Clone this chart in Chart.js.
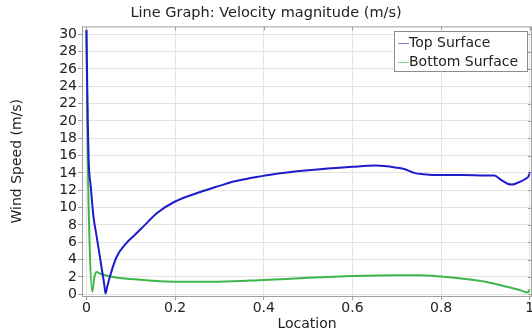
<!DOCTYPE html>
<html>
<head>
<meta charset="utf-8">
<script src="https://cdn.jsdelivr.net/npm/chart.js@4.4.0/dist/chart.umd.min.js"></script>
<style>
  html, body { margin: 0; padding: 0; background: #fff; }
  #wrap { width: 532px; height: 333px; }
</style>
</head>
<body>
<div id="wrap"><canvas id="chart" width="532" height="333"></canvas></div>
<script>
// Top surface
const topX = [0, 0.003, 0.005, 0.010, 0.016, 0.022, 0.028, 0.035, 0.040, 0.043, 0.047, 0.055, 0.068, 0.09, 0.11, 0.128, 0.16, 0.2, 0.257, 0.3, 0.332, 0.37, 0.415, 0.5, 0.6, 0.653, 0.7, 0.72, 0.739, 0.76, 0.8, 0.85, 0.9, 0.92, 0.935, 0.95, 0.959, 0.97, 0.99, 0.997, 1.0];
const topY = [30.5, 20, 15.5, 12.3, 8.9, 7.0, 5.1, 2.8, 1.2, 0.1, 0.9, 2.4, 4.3, 5.9, 6.9, 7.8, 9.4, 10.7, 11.8, 12.5, 13.0, 13.4, 13.8, 14.3, 14.7, 14.85, 14.6, 14.4, 14.0, 13.85, 13.75, 13.75, 13.7, 13.7, 13.2, 12.75, 12.65, 12.8, 13.3, 13.6, 14.1];

// Bottom surface
const botX = [0, 0.003, 0.007, 0.013, 0.018, 0.023, 0.03, 0.05, 0.07, 0.1, 0.15, 0.2, 0.3, 0.4, 0.5, 0.6, 0.7, 0.75, 0.8, 0.85, 0.9, 0.95, 0.98, 0.995, 1.0];
const botY = [30.5, 16, 6, 0.3, 2.0, 2.58, 2.4, 2.1, 1.9, 1.75, 1.55, 1.45, 1.45, 1.65, 1.9, 2.1, 2.2, 2.2, 2.05, 1.8, 1.45, 0.85, 0.45, 0.2, 0.55];

const xTicks = [0, 0.2, 0.4, 0.6, 0.8, 1];
const yTicks = [0, 2, 4, 6, 8, 10, 12, 14, 16, 18, 20, 22, 24, 26, 28, 30];

const seriesLabels = ['Top Surface', 'Bottom Surface'];
const seriesColors = ['#1c1cca', '#3cb54a'];

function toPoints(xs, ys) {
    return xs.map((x, i) => ({ x: x, y: ys[i] }));
}

const fontFamily = '"DejaVu Sans", sans-serif';

// frame, mirrored ticks and an inside legend like the original plot
const framePlugin = {
    id: 'frame',
    afterDraw(chart) {
        const ctx = chart.ctx;
        const a = chart.chartArea;
        const xs = chart.scales.x;
        const ys = chart.scales.y;
        ctx.save();
        ctx.strokeStyle = '#a0a0a0';
        ctx.lineWidth = 1;
        ctx.strokeRect(a.left + 0.5, a.top + 0.5, a.right - a.left - 1, a.bottom - a.top);
        ctx.beginPath();
        xTicks.forEach(t => {
            const px = Math.round(xs.getPixelForValue(t)) + 0.5;
            ctx.moveTo(px, a.top);
            ctx.lineTo(px, a.top + 4);
        });
        yTicks.forEach(t => {
            const py = Math.round(ys.getPixelForValue(t)) + 0.5;
            ctx.moveTo(a.right, py);
            ctx.lineTo(a.right - 4, py);
        });
        ctx.stroke();

        // legend box
        const bx = 394, by = 31, bw = 133, bh = 40;
        ctx.fillStyle = '#fff';
        ctx.fillRect(bx, by, bw, bh);
        ctx.strokeStyle = '#8c8c8c';
        ctx.strokeRect(bx + 0.5, by + 0.5, bw, bh);
        ctx.font = '14px ' + fontFamily;
        ctx.textBaseline = 'middle';
        chart.data.datasets.forEach((ds, i) => {
            const cy = by + 12 + i * 19;
            ctx.strokeStyle = ds.borderColor;
            ctx.globalAlpha = 0.6;
            ctx.beginPath();
            ctx.moveTo(bx + 4, cy + 0.5);
            ctx.lineTo(bx + 15, cy + 0.5);
            ctx.stroke();
            ctx.globalAlpha = 1;
            ctx.fillStyle = '#222';
            ctx.fillText(ds.label, bx + 15, cy);
        });
        ctx.restore();
    }
};

new Chart(document.getElementById('chart'), {
    type: 'line',
    data: {
        datasets: [
            {
                label: seriesLabels[0],
                data: toPoints(topX, topY),
                borderColor: seriesColors[0],
                borderWidth: 2,
                pointRadius: 0,
                cubicInterpolationMode: 'monotone'
            },
            {
                label: seriesLabels[1],
                data: toPoints(botX, botY),
                borderColor: seriesColors[1],
                borderWidth: 2,
                pointRadius: 0,
                cubicInterpolationMode: 'monotone'
            }
        ]
    },
    options: {
        responsive: false,
        animation: false,
        layout: { padding: 0 },
        plugins: {
            legend: { display: false },
            tooltip: { enabled: false },
            title: {
                display: true,
                text: 'Line Graph: Velocity magnitude (m/s)',
                color: '#222',
                font: { family: fontFamily, size: 14.5, weight: 'normal' },
                padding: { top: 5, bottom: 4 }
            }
        },
        scales: {
            x: {
                type: 'linear',
                min: -0.01,
                max: 1.005,
                afterBuildTicks(scale) {
                    scale.ticks = xTicks.map(v => ({ value: v }));
                },
                afterFit(scale) {
                    scale.height = 37;
                    scale.paddingLeft = 0;
                    scale.paddingRight = 0;
                },
                ticks: {
                    color: '#222',
                    font: { family: fontFamily, size: 14 },
                    padding: 0,
                    maxRotation: 0,
                    autoSkip: false,
                    callback: v => String(v)
                },
                grid: { color: '#e4e4e4', tickColor: '#a0a0a0', tickLength: 4 },
                border: { color: '#a0a0a0' },
                title: {
                    display: true,
                    text: 'Location',
                    color: '#222',
                    font: { family: fontFamily, size: 14 },
                    padding: { top: 0, bottom: 0 }
                }
            },
            y: {
                type: 'linear',
                min: -0.2,
                max: 30.9,
                afterBuildTicks(scale) {
                    scale.ticks = yTicks.map(v => ({ value: v }));
                },
                afterFit(scale) {
                    scale.width = 82;
                    scale.paddingTop = 0;
                    scale.paddingBottom = 0;
                },
                ticks: {
                    color: '#222',
                    font: { family: fontFamily, size: 14 },
                    padding: 1,
                    autoSkip: false
                },
                grid: { color: '#e4e4e4', tickColor: '#a0a0a0', tickLength: 4 },
                border: { color: '#a0a0a0' },
                title: {
                    display: true,
                    text: 'Wind Speed (m/s)',
                    color: '#222',
                    font: { family: fontFamily, size: 14 },
                    padding: { top: 9, bottom: 0 }
                }
            }
        }
    },
    plugins: [framePlugin]
});
</script>
</body>
</html>
